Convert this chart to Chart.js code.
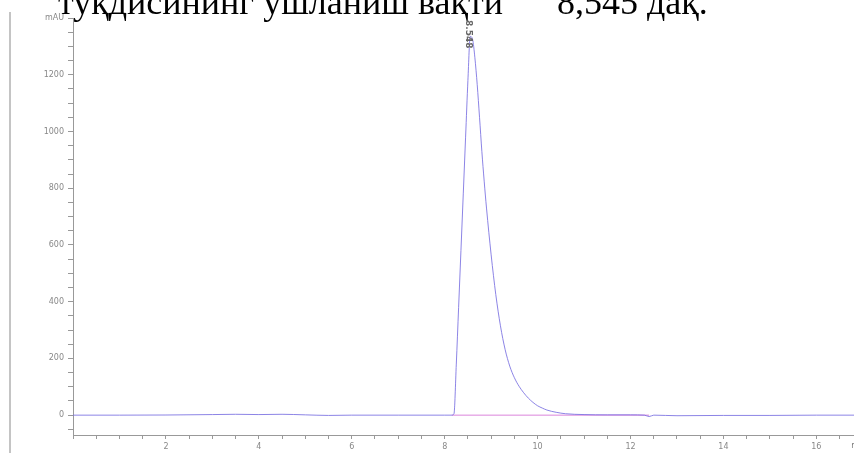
<!DOCTYPE html>
<html>
<head>
<meta charset="utf-8">
<script src="https://cdn.jsdelivr.net/npm/chart.js@4"></script>
<style>
html,body{margin:0;padding:0;background:#fff;overflow:hidden;width:854px;height:453px;}
canvas{display:block;}
</style>
</head>
<body>
<canvas id="c" width="900" height="453"></canvas>
<script>
// Retention time (min)
const times = [0,1,2,3,3.5,4,4.5,5,5.5,6,7,8,8.15,8.2,8.25,8.3,8.35,8.4,8.45,8.5,8.55,8.6,8.65,8.7,8.75,8.8,8.85,8.9,9.0,9.1,9.2,9.3,9.4,9.5,9.6,9.7,9.8,9.9,10.0,10.1,10.2,10.4,10.6,11,11.5,12,12.3,12.4,12.5,13,14,15,16,17,18];
// Absorbance (mAU)
const absorbance = [0,0,0.5,2,3,2,3,1,-1,0,0,0,0,5,180,380,580,780,980,1180,1335,1325,1260,1165,1050,930,825,730,565,425,315,232,173,132,102,79,60,45,33,25,18,10,5,2,1,1,0,-5,0,-2,-1,-1,0,0,0];
// Integration baseline segment
const baseTimes = [8.15, 12.4];
const baseValues = [0, 0];
const peakLabel = "8.548";
const titleText = "туқдисининг ушланиш вақти      8,545 дақ.";
const yLabelTicks = [0,200,400,600,800,1000,1200];
const xLabelTicks = [2,4,6,8,10,12,14,16];

const pts = times.map((t,i)=>({x:t,y:absorbance[i]}));
const basePts = baseTimes.map((t,i)=>({x:t,y:baseValues[i]}));

const extras = {
  id:'extras',
  afterDraw(chart){
    const ctx = chart.ctx;
    const xs = chart.scales.x;
    ctx.save();
    // left frame line
    ctx.strokeStyle = '#c4c4c4';
    ctx.lineWidth = 2;
    ctx.beginPath(); ctx.moveTo(10,12); ctx.lineTo(10,453); ctx.stroke();
    // title text (clipped at top)
    ctx.fillStyle = '#000';
    ctx.font = '36px "Liberation Serif", "Times New Roman", serif';
    ctx.textBaseline = 'alphabetic';
    ctx.textAlign = 'left';
    ctx.fillText(titleText, 58, 14);
    // peak label rotated
    const px = xs.getPixelForValue(8.548);
    ctx.save();
    ctx.translate(px-2, 20);
    ctx.rotate(Math.PI/2);
    ctx.font = 'bold 9px "DejaVu Sans", sans-serif';
    ctx.fillStyle = '#666';
    ctx.textAlign = 'left';
    ctx.textBaseline = 'middle';
    ctx.fillText(peakLabel, 0, 0);
    ctx.restore();
    // x unit label
    ctx.font = '8px "DejaVu Sans", sans-serif';
    ctx.fillStyle = '#777';
    ctx.textAlign = 'left';
    ctx.textBaseline = 'top';
    ctx.fillText('min', xs.getPixelForValue(16.75), 442);
    ctx.restore();
  }
};

new Chart(document.getElementById('c'), {
  type:'scatter',
  data:{datasets:[
    {data:pts, showLine:true, borderColor:'rgba(120,110,225,0.85)', borderWidth:1, pointRadius:0, cubicInterpolationMode:'monotone'},
    {data:basePts, showLine:true, borderColor:'rgba(215,120,215,0.9)', borderWidth:1, pointRadius:0}
  ]},
  options:{
    responsive:false, animation:false,
    layout:{padding:{top:18,left:0,right:0,bottom:0}},
    plugins:{legend:{display:false},tooltip:{enabled:false},title:{display:false}},
    scales:{
      x:{type:'linear', min:0, max:17.8,
        afterFit(s){s.height=18;},
        border:{display:true,color:'#999',width:1},
        grid:{display:true,drawOnChartArea:false,drawTicks:true,tickLength:4,color:'#999'},
        ticks:{stepSize:0.5, includeBounds:false, autoSkip:false, maxRotation:0, padding:3,
          color:'#888', font:{size:8,family:'"DejaVu Sans", sans-serif'},
          callback:(v)=> xLabelTicks.includes(v) ? String(v) : ''}
      },
      y:{type:'linear', min:-70, max:1400,
        afterFit(s){s.width=73;},
        border:{display:true,color:'#999',width:1},
        grid:{display:true,drawOnChartArea:false,drawTicks:true,tickLength:5,color:'#999'},
        ticks:{stepSize:50, includeBounds:false, autoSkip:false, padding:4,
          color:'#888', font:{size:8,family:'"DejaVu Sans", sans-serif'},
          callback:(v)=> v===1400 ? 'mAU' : (yLabelTicks.includes(v) ? String(v) : '')}
      }
    }
  },
  plugins:[extras]
});
</script>
</body>
</html>
